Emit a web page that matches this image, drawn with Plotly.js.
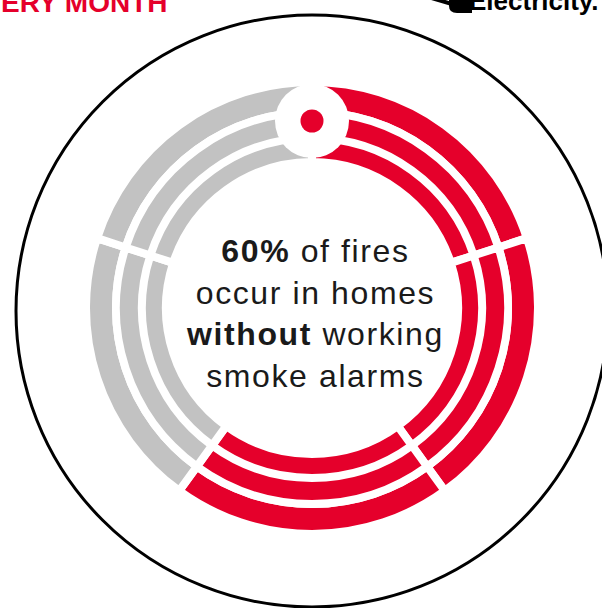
<!DOCTYPE html>
<html>
<head>
<meta charset="utf-8">
<script src="https://cdn.plot.ly/plotly-3.0.1.min.js"></script>
<style>
  html, body { margin: 0; padding: 0; background: #ffffff; }
  #chart { width: 602px; height: 608px; }
  .annotation[data-index="0"] .annotation-text { letter-spacing: 1.6px; }
</style>
</head>
<body>
<div id="chart"></div>
<script>
// ---- data ----
const segmentLabels = ['Segment 1', 'Segment 2', 'Segment 3', 'Segment 4', 'Segment 5'];
const segmentValues = [20, 20, 20, 20, 20];            // each segment = 20% of fires
const segmentStatus = ['without', 'without', 'without', 'with', 'with']; // 60% without alarms
const ringNames = ['outer', 'middle', 'inner'];
const headerLeftText = 'ERY MONTH';
const headerRightText = 'Electricity.';
const centerLines = ['<b>60%</b> of fires', 'occur in homes', '<b>without</b> working', 'smoke alarms'];

// ---- styles / geometry ----
const W = 602, H = 608;
const px = x => x / W;
const py = y => 1 - y / H;
const statusColors = { without: '#E5002B', with: '#C2C2C2' };
const ringCenter = { x: 312, y: 308 };
const gapWidth = 8;
const ringGeom = {
  outer:  { rOut: 222, rIn: 200 },
  middle: { rOut: 192, rIn: 173 },
  inner:  { rOut: 166, rIn: 150 }
};

const traces = ringNames.map(name => {
  const g = ringGeom[name];
  const R = g.rOut + gapWidth / 2;
  const rin = g.rIn - gapWidth / 2;
  return {
    type: 'pie',
    name: name,
    labels: segmentLabels,
    values: segmentValues,
    sort: false,
    direction: 'clockwise',
    rotation: 0,
    hole: rin / R,
    textinfo: 'none',
    hoverinfo: 'skip',
    showlegend: false,
    marker: {
      colors: segmentStatus.map(s => statusColors[s]),
      line: { color: '#ffffff', width: gapWidth }
    },
    domain: {
      x: [px(ringCenter.x - R), px(ringCenter.x + R)],
      y: [py(ringCenter.y + R), py(ringCenter.y - R)]
    }
  };
});

function circleShape(cx, cy, r, opts) {
  return Object.assign({
    type: 'circle', xref: 'paper', yref: 'paper',
    x0: px(cx - r), x1: px(cx + r), y0: py(cy + r), y1: py(cy - r)
  }, opts);
}
function pathFromPx(pts) {
  return pts.map((p, i) => (i === 0 ? 'M ' : (p.q ? 'Q ' : 'L ')) +
    (p.q ? px(p.q[0]) + ' ' + py(p.q[1]) + ' ' : '') + px(p[0]) + ' ' + py(p[1])).join(' ') + ' Z';
}

const shapes = [
  // big outline circle
  circleShape(312, 311, 296, { line: { color: '#000000', width: 3 }, fillcolor: 'rgba(0,0,0,0)', layer: 'below' }),
  // white disc at top (alarm button)
  circleShape(312, 121, 37, { line: { width: 0 }, fillcolor: '#ffffff', layer: 'above' }),
  // red dot
  circleShape(312, 121, 11.5, { line: { width: 0 }, fillcolor: '#E5002B', layer: 'above' }),
  // logo tail
  { type: 'line', xref: 'paper', yref: 'paper', x0: px(428), y0: py(-3), x1: px(452), y1: py(4),
    line: { color: '#000', width: 4 }, layer: 'above' },
  // logo blob
  { type: 'path', xref: 'paper', yref: 'paper', fillcolor: '#000', line: { width: 0 }, layer: 'above',
    path: 'M ' + px(449) + ' ' + py(-4) + ' L ' + px(472) + ' ' + py(-4) + ' L ' + px(472) + ' ' + py(13) +
          ' L ' + px(457) + ' ' + py(13) + ' Q ' + px(449) + ' ' + py(13) + ' ' + px(449) + ' ' + py(6) + ' Z' }
];

const annotations = [
  {
    xref: 'paper', yref: 'paper', x: px(314.5), y: py(313.3),
    xanchor: 'center', yanchor: 'middle', align: 'center', showarrow: false,
    text: centerLines.join('<br>'),
    font: { family: 'Liberation Sans, Arial, sans-serif', size: 32, color: '#1a1a1a' }
  },
  {
    xref: 'paper', yref: 'paper', x: px(169), y: py(2.5),
    xanchor: 'right', yanchor: 'middle', showarrow: false,
    text: '<b>' + headerLeftText + '</b>',
    font: { family: 'Liberation Sans, Arial, sans-serif', size: 28, color: '#E5002B' }
  },
  {
    xref: 'paper', yref: 'paper', x: px(601), y: py(0.5),
    xanchor: 'right', yanchor: 'middle', showarrow: false,
    text: '<b>' + headerRightText + '</b>',
    font: { family: 'Liberation Sans, Arial, sans-serif', size: 26, color: '#000000' }
  }
];

const layout = {
  width: W, height: H,
  margin: { l: 0, r: 0, t: 0, b: 0, pad: 0 },
  paper_bgcolor: '#ffffff',
  plot_bgcolor: '#ffffff',
  showlegend: false,
  shapes: shapes,
  annotations: annotations
};

Plotly.newPlot('chart', traces, layout, { staticPlot: true, displayModeBar: false });
</script>
</body>
</html>
